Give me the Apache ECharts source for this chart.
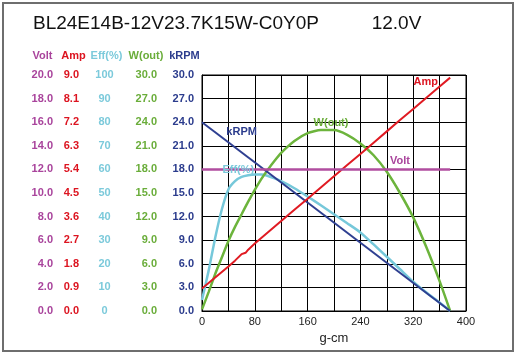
<!DOCTYPE html>
<html><head><meta charset="utf-8">
<script src="https://cdn.jsdelivr.net/npm/echarts@6/dist/echarts.min.js"></script>
<style>html,body{margin:0;padding:0;background:#fff}#c{width:516px;height:355px}</style>
</head><body><div id="c"></div>
<script>
// ---- data ----
const chartTitle = 'BL24E14B-12V23.7K15W-C0Y0P          12.0V';
const axisNames = ['Volt', 'Amp', 'Eff(%)', 'W(out)', 'kRPM'];
const axisMax = [20, 9, 100, 30, 30];
const xLabelValues = [0, 80, 160, 240, 320, 400];
const xName = 'g-cm';

const torque = [0, 10, 20, 30, 40, 50, 60, 70, 80, 90, 100, 110, 120, 140, 160, 180, 200, 220, 240, 260, 280, 300, 320, 340, 360, 376];
const effPct = [4.7, 17, 31, 43, 51.5, 55, 56.8, 57.5, 57.8, 57.8, 57.2, 56.2, 55, 52, 48.5, 44.8, 41, 37.2, 33.3, 28.2, 23, 17.7, 12.4, 7.8, 3.6, 0];
const wOut = [0.2, 2.4, 4.7, 6.8, 8.9, 10.7, 12.3, 13.9, 15.4, 16.8, 18.0, 19.1, 20.1, 21.6, 22.6, 23.0, 23.0, 22.4, 21.3, 19.8, 17.7, 15.0, 11.9, 8.1, 3.8, 0];
const ampTorque = [0, 20, 40, 50, 60, 66, 70, 80, 100, 120, 140, 160, 180, 200, 220, 240, 260, 280, 300, 320, 340, 360, 376];
const ampValues = [0.86, 1.28, 1.70, 1.92, 2.17, 2.22, 2.34, 2.57, 3.00, 3.43, 3.86, 4.28, 4.71, 5.14, 5.57, 5.99, 6.42, 6.85, 7.28, 7.70, 8.13, 8.56, 8.90];
const rpmTorque = [0, 376];
const rpmValues = [24.0, 0];
const voltTorque = [0, 376];
const voltValues = [12.0, 12.0];

// label anchor points (data units of each series)
const lineLabels = {
  Volt: [300, 12.69], Amp: [339, 8.72], Eff: [55, 59.6], W: [195.5, 23.9], kRPM: [60, 22.7]
};

// ---- styles ----
const font = 'Liberation Sans, Arial, Helvetica, sans-serif';
const colVolt = '#a9449c', colAmp = '#dc1420', colEff = '#7ccadb', colW = '#6aad3a', colRpm = '#2b3c8d';
const lineCol = { Volt: '#b04d9f', Amp: '#e01a22', Eff: '#76c8da', W: '#6cb43c', kRPM: '#2e3f91' };
const axisColors = [colVolt, colAmp, colEff, colW, colRpm];
const axisOffsets = [149, 115, 95.5, 37, 0];
const labelMargins = [0, 8, 2, 8, 8];
const headerX = [42.5, 73.5, 106.5, 146, 184.5];
const headerY = 56;

const pair = (xs, ys) => xs.map((x, i) => [x, ys[i]]);

const yAxes = axisNames.map((n, i) => ({
  type: 'value', position: 'left', min: 0, max: axisMax[i], interval: axisMax[i] / 10,
  offset: axisOffsets[i],
  axisLine: { show: i === 4, lineStyle: { color: '#000', width: 1 } },
  axisTick: { show: false },
  splitLine: { show: i === 4, lineStyle: { color: '#000', width: 1 } },
  axisLabel: {
    color: axisColors[i], fontWeight: 'bold', fontSize: 11, fontFamily: font, margin: labelMargins[i],
    align: i === 2 ? 'center' : 'right',
    formatter: v => i === 2 ? String(Math.round(v)) : v.toFixed(1)
  }
}));

const headerTexts = axisNames.map((n, i) => ({
  type: 'text', x: headerX[i], y: headerY, silent: true,
  style: { text: n, fill: axisColors[i], font: 'bold 11px ' + font, align: 'center', verticalAlign: 'middle' }
}));

function mk(name, coord, color) {
  return {
    symbol: 'circle', symbolSize: 1, silent: true, animation: false,
    itemStyle: { color: 'transparent' },
    label: { show: true, position: 'inside', formatter: name, color: color, fontWeight: 'bold', fontSize: 11, fontFamily: font },
    data: [{ coord: coord }]
  };
}

const chart = echarts.init(document.getElementById('c'), null, { renderer: 'canvas' });
chart.setOption({
  animation: false,
  backgroundColor: '#fff',
  title: {
    text: chartTitle, left: 28, top: 9,
    textStyle: { fontSize: 19, fontWeight: 'normal', color: '#111', fontFamily: font }
  },
  graphic: [{
    type: 'rect', shape: { x: 3, y: 3, width: 510, height: 348 },
    style: { fill: 'none', stroke: '#6e6e6e', lineWidth: 2 }, silent: true
  }].concat(headerTexts),
  grid: { left: 202, right: 50, top: 75, bottom: 44, show: true, borderColor: '#000', borderWidth: 1, containLabel: false },
  xAxis: {
    type: 'value', min: 0, max: 400, interval: 40,
    name: xName, nameLocation: 'middle', nameGap: 20,
    nameTextStyle: { color: '#222', fontSize: 13, fontFamily: font },
    axisLine: { show: true, lineStyle: { color: '#000', width: 1 } },
    axisTick: { show: false },
    splitLine: { show: true, lineStyle: { color: '#000', width: 1 } },
    axisLabel: {
      color: '#222', fontSize: 11, fontFamily: font, margin: 5,
      formatter: v => xLabelValues.indexOf(v) >= 0 ? String(v) : ''
    }
  },
  yAxis: yAxes,
  series: [
    { name: 'Eff(%)', type: 'line', yAxisIndex: 2, data: pair(torque, effPct), symbol: 'none', smooth: 0.2,
      lineStyle: { color: lineCol.Eff, width: 2.5 }, markPoint: mk('Eff(%)', lineLabels.Eff, colEff) },
    { name: 'W(out)', type: 'line', yAxisIndex: 3, data: pair(torque, wOut), symbol: 'none', smooth: 0.2,
      lineStyle: { color: lineCol.W, width: 2.5 }, markPoint: mk('W(out)', lineLabels.W, colW) },
    { name: 'kRPM', type: 'line', yAxisIndex: 4, data: pair(rpmTorque, rpmValues), symbol: 'none',
      lineStyle: { color: lineCol.kRPM, width: 2 }, markPoint: mk('kRPM', lineLabels.kRPM, colRpm) },
    { name: 'Amp', type: 'line', yAxisIndex: 1, data: pair(ampTorque, ampValues), symbol: 'none',
      lineStyle: { color: lineCol.Amp, width: 2 }, markPoint: mk('Amp', lineLabels.Amp, colAmp) },
    { name: 'Volt', type: 'line', yAxisIndex: 0, data: pair(voltTorque, voltValues), symbol: 'none',
      lineStyle: { color: lineCol.Volt, width: 2.5 }, markPoint: mk('Volt', lineLabels.Volt, colVolt) }
  ]
});
</script>
</body></html>
